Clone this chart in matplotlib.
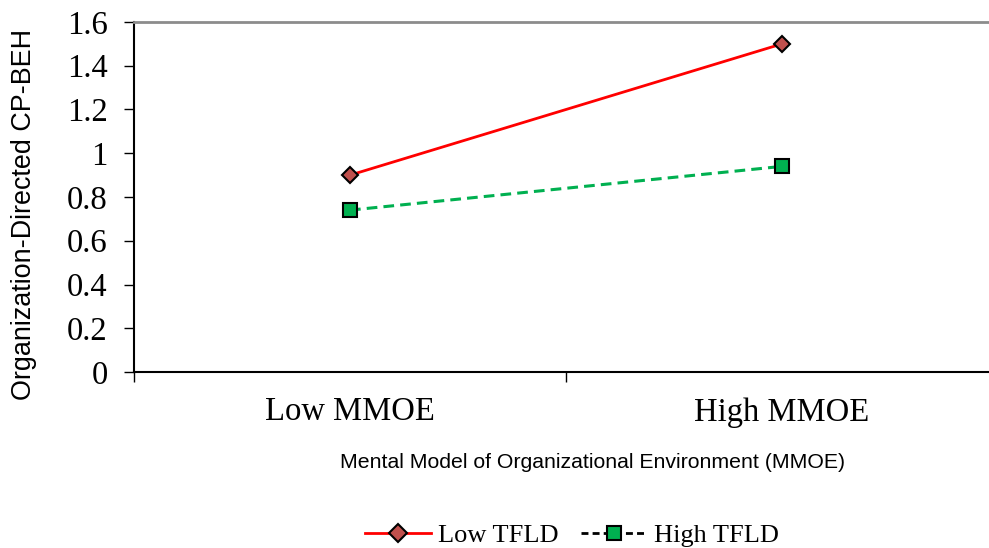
import matplotlib.pyplot as plt
from matplotlib.lines import Line2D

categories = ['Low MMOE', 'High MMOE']
low_tfld = [0.90, 1.50]
high_tfld = [0.74, 0.94]
yticks = [0, 0.2, 0.4, 0.6, 0.8, 1, 1.2, 1.4, 1.6]
ytick_labels = ['0', '0.2', '0.4', '0.6', '0.8', '1', '1.2', '1.4', '1.6']

serif = ['Liberation Serif', 'DejaVu Serif']
sans = ['Liberation Sans', 'DejaVu Sans']

fig = plt.figure(figsize=(9.89, 5.48), dpi=100)
# axes run slightly past the right edge, like the original
ax = fig.add_axes([134 / 989, 1 - 372 / 548, 864 / 989, 350 / 548])

x = [0.5, 1.5]
ax.plot(x, low_tfld, color='#FF0000', lw=2, marker='D', ms=8.5,
        mfc='#C0504D', mec='black', mew=1.5, label='Low TFLD')
ax.plot(x, high_tfld, color='#00B050', lw=2.2, ls=(0, (3.5, 2)), marker='s', ms=10,
        mfc='#00B050', mec='black', mew=1.5, label='High TFLD')

ax.set_xlim(0, 2)
ax.set_ylim(0, 1.6)
ax.set_yticks(yticks)
ax.set_yticklabels(ytick_labels, fontfamily=serif, fontsize=23.5)
ax.set_xticks([0, 1, 2])
ax.set_xticklabels([])
ax.set_xticks(x, minor=True)
ax.set_xticklabels(categories, minor=True, fontfamily=serif, fontsize=23.5)
ax.tick_params(axis='x', which='minor', length=0, pad=18)
ax.tick_params(axis='x', which='major', length=7, width=1, direction='out')
ax.tick_params(axis='y', length=7, width=1, direction='out', pad=12)

ax.spines['right'].set_visible(False)
ax.spines['top'].set_color('#8C8C8C')
ax.spines['top'].set_linewidth(2)
ax.spines['bottom'].set_linewidth(1.5)
ax.spines['left'].set_linewidth(1.5)

fig.text(24 / 989, 1 - 214 / 548, 'Organization-Directed CP-BEH', fontfamily=sans,
         fontsize=19.4, rotation=90, ha='center', va='center')
fig.text(593 / 989, 1 - 463 / 548, 'Mental Model of Organizational Environment (MMOE)',
         fontfamily=sans, fontsize=15.3, ha='center', va='center')

handles = [
    Line2D([], [], color='#FF0000', lw=2, marker='D', ms=9, mfc='#C0504D', mec='black', mew=1.5),
    Line2D([], [], color='black', lw=2, ls=(0, (2.5, 1.5)), marker='s', ms=10, mfc='#00B050', mec='black', mew=1.5),
]
fig.legend(handles, ['Low TFLD', 'High TFLD'], loc='center', bbox_to_anchor=(572 / 989, 1 - 535 / 548),
           ncol=2, frameon=False, prop={'family': serif, 'size': 19},
           handlelength=2.5, handletextpad=0.27, columnspacing=0.87, borderpad=0)

fig.savefig('out.png', dpi=100)
